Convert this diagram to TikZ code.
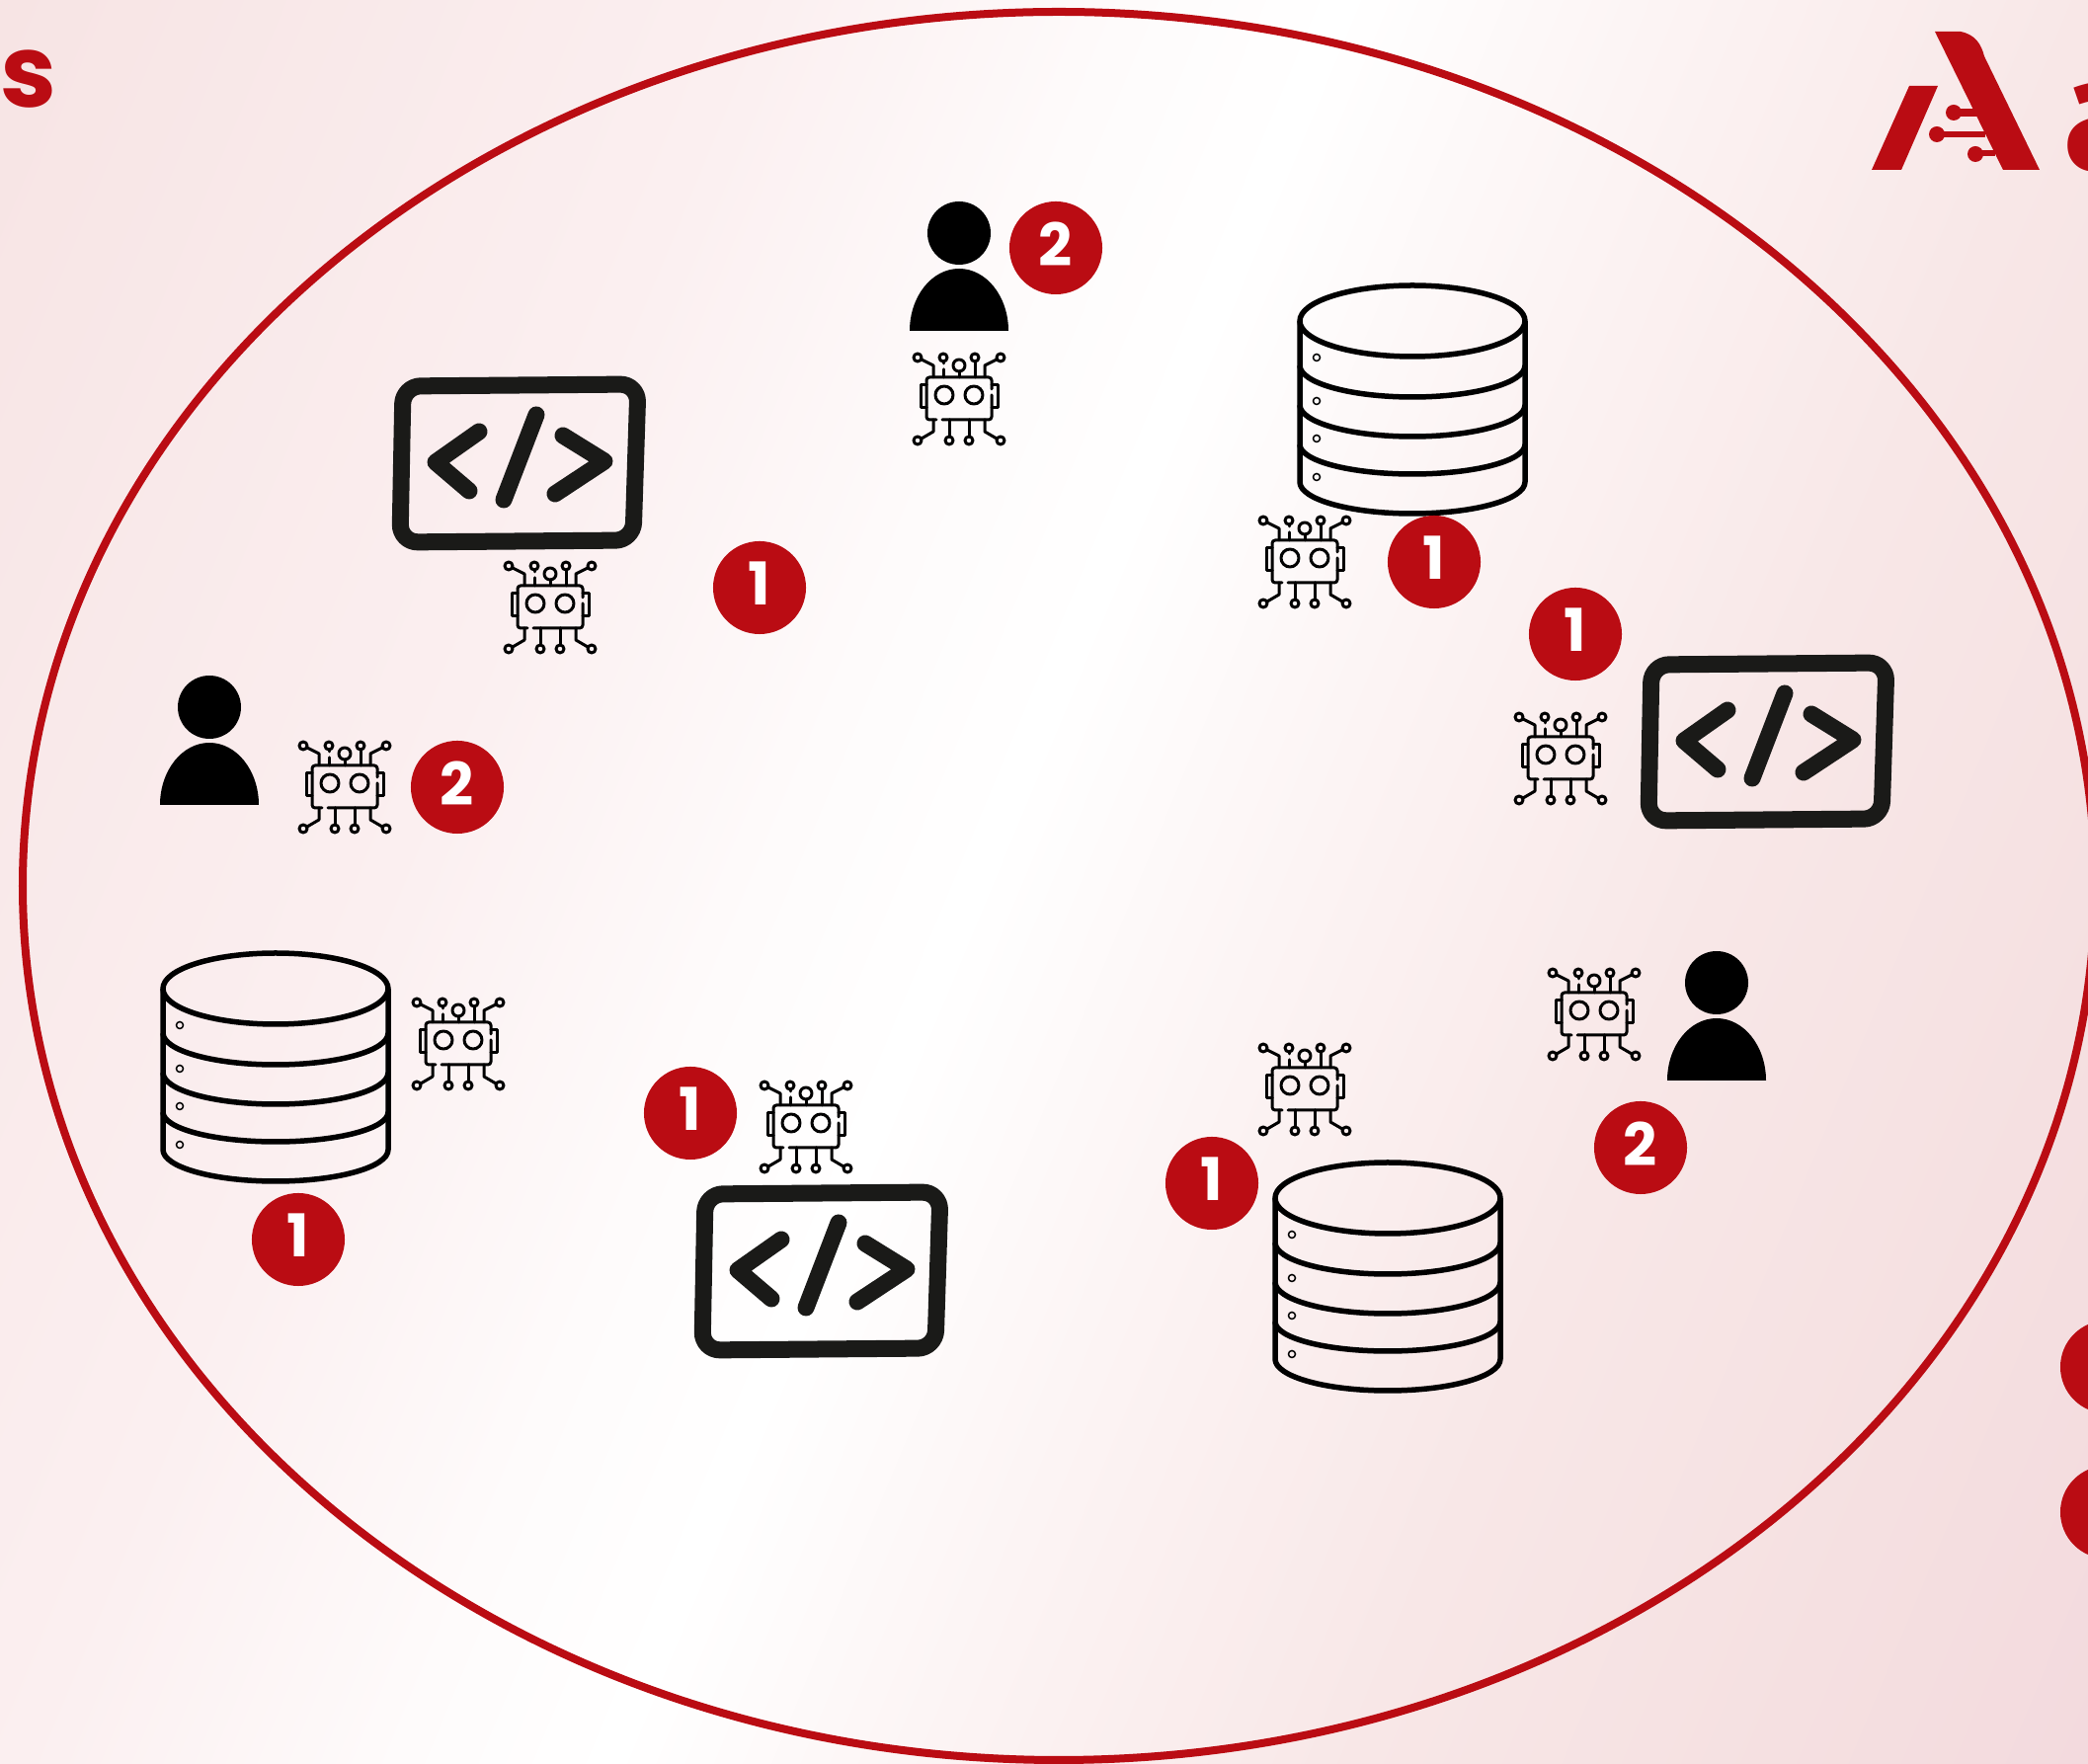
\documentclass[tikz,border=0pt]{standalone}
\usepackage{fontspec}
\newfontfamily\logofont{Poppins}
\newfontfamily\wordfont{Fira Sans}
\definecolor{pagepink}{HTML}{F7E4E4}
\definecolor{pagerose}{HTML}{F3DADE}
\definecolor{fadea}{HTML}{FBEFF0}
\definecolor{fadeb}{HTML}{FEFBFB}
\definecolor{fadec}{HTML}{FCF4F4}
\definecolor{faded}{HTML}{F8E7E7}
\definecolor{fadee}{HTML}{F5E0E1}
\definecolor{brandred}{HTML}{BA0C13}
\definecolor{codeink}{HTML}{1A1A18}
\pgfdeclarehorizontalshading{paperfade}{100bp}{
    color(0bp)=(pagepink);
    color(29.4bp)=(pagepink);
    color(40.4bp)=(fadea);
    color(45.9bp)=(fadeb);
    color(49.05bp)=(white);
    color(53.7bp)=(fadec);
    color(59.9bp)=(faded);
    color(66bp)=(fadee);
    color(70.6bp)=(pagerose);
    color(100bp)=(pagerose)}
\tikzset{x=0.01cm, y=-0.01cm, % Coordinates are pixels of the picture
        ring/.style={ % The big round border
            draw=brandred,
            line width=0.08cm},
        badge/.style={ % Sets the properties for each number
            circle,
            fill=brandred,
            text=white,
            inner sep=0pt,
            text depth=0.08cm, % Digits stand a little above the middle
            minimum size=0.94cm,
            font=\logofont\fontsize{17}{17}\selectfont\bfseries},
        brandtext/.style={
            text=brandred,
            inner sep=0pt,
            font=\logofont\bfseries},
        circuit/.style={ % Thin lines of the robot chip
            draw=black,
            line width=0.03cm,
            line cap=round,
            line join=round},
        barrel/.style={ % Lines of the database
            draw=black,
            line width=0.055cm,
            line join=round},
        codeline/.style={ % Heavy lines of the code window
            draw=codeink,
            line width=0.17cm,
            line cap=round,
            line join=round},
        personicon/.pic={
            \fill[black] (0,0) circle (32);
            \fill[black] (-50,99) arc (180:360:50 and 63) -- cycle;
        },
        roboticon/.pic={
            \draw[circuit, rounded corners=0.03cm] (-17,21) -- (33,21) -- (33,-4);
            \draw[circuit, rounded corners=0.03cm] (33,-10) -- (33,-22) -- (-33,-22) -- (-33,21) -- (-23,21);
            \draw[circuit] (-33,-14) -- (-39,-14) -- (-39,9) -- (-33,9);
            \draw[circuit] (33,-14) -- (39,-14) -- (39,9) -- (33,9);
            \draw[circuit] (-15,-4) circle (9);
            \draw[circuit] (15,-4) circle (9);
            \draw[circuit] (-42,-42) circle (4);
            \draw[circuit] (-16,-42) circle (4);
            \draw[circuit] (0,-34) circle (6);
            \draw[circuit] (16,-42) circle (4);
            \draw[circuit] (42,-42) circle (4);
            \draw[circuit] (-38,-40) -- (-26,-34) -- (-26,-22);
            \draw[circuit] (-16,-38) -- (-16,-36);
            \draw[circuit] (-16,-30) -- (-16,-22);
            \draw[circuit] (0,-28) -- (0,-22);
            \draw[circuit] (16,-38) -- (16,-22);
            \draw[circuit] (38,-40) -- (26,-34) -- (26,-22);
            \draw[circuit] (-42,42) circle (4);
            \draw[circuit] (-10,42) circle (4);
            \draw[circuit] (10,42) circle (4);
            \draw[circuit] (42,42) circle (4);
            \draw[circuit] (-38,40) -- (-26,33) -- (-26,21);
            \draw[circuit] (-10,38) -- (-10,21);
            \draw[circuit] (10,38) -- (10,21);
            \draw[circuit] (38,40) -- (26,33) -- (26,21);
        },
        dbicon/.pic={
            \draw[barrel] (0,-79) ellipse (114 and 36);
            \draw[barrel] (-114,-79) -- (-114,84) arc (180:0:114 and 32) -- (114,-79);
            \draw[barrel] (-114,-34) arc (180:0:114 and 32);
            \draw[barrel] (-114,6) arc (180:0:114 and 32);
            \draw[barrel] (-114,46) arc (180:0:114 and 30);
            \draw[line width=0.015cm] (-97,-42) circle (3.5);
            \draw[line width=0.015cm] (-97,2) circle (3.5);
            \draw[line width=0.015cm] (-97,40) circle (3.5);
            \draw[line width=0.015cm] (-97,79) circle (3.5);
        },
        codeicon/.pic={
            \draw[codeline, rounded corners=0.18cm] (-117,-78) -- (121,-80) -- (116,78) -- (-120,80) -- cycle;
            \draw[codeline] (-40,-32) -- (-84,-1) -- (-50,28);
            \draw[codeline] (18,-49) -- (-15,37);
            \draw[codeline] (45,-28) -- (87,-2) -- (37,31);
        }
        }

\begin{document}
\begin{tikzpicture}
    \path[use as bounding box, clip] (0,0) rectangle (2114,1786);
    \shade[shading=paperfade, shading angle=-22.6] (-543,-707) rectangle (2657,2493);

    \node[brandtext, font=\logofont\bfseries\fontsize{29}{29}\selectfont, anchor=base west] (plural) at (0,109) {s};
    \fill[brandred] (1895,172) -- (1933,87) -- (1962,87) -- (1925,172) -- cycle; % Logo letter
    \fill[brandred] (1959,32) -- (1985,32) .. controls (2000,35) and (2006,45) .. (2009,57) -- (2065,172) -- (2028,172) -- cycle;
    \fill[brandred] (1978,114) circle (8);
    \fill[brandred] (1961,136) circle (8);
    \fill[brandred] (2000,156) circle (8);
    \fill[brandred] (1978,110) rectangle (2005,118);
    \fill[brandred] (1961,133) rectangle (2010,139);
    \fill[brandred] (2000,152) rectangle (2020,158);
    \node[brandtext, font=\wordfont\bfseries\fontsize{46}{46}\selectfont, anchor=base west] (logoword) at (2089,172) {a};

    \draw[ring] (1072,897) ellipse (1049 and 885);

    \pic (persona) at (971,236) {personicon};
    \pic (personb) at (212,716) {personicon};
    \pic (personc) at (1738,995) {personicon};

    \pic (dba) at (1430,404) {dbicon};
    \pic (dbb) at (279,1080) {dbicon};
    \pic (dbc) at (1405,1292) {dbicon};

    \pic (codea) at (525,469) {codeicon};
    \pic (codeb) at (1789,751) {codeicon};
    \pic (codec) at (831,1287) {codeicon};

    \pic (robota) at (971,404) {roboticon};
    \pic (robotb) at (557,615) {roboticon};
    \pic (robotc) at (1321,569) {roboticon};
    \pic (robotd) at (1580,768) {roboticon};
    \pic (robote) at (349,797) {roboticon};
    \pic (robotf) at (464,1057) {roboticon};
    \pic (robotg) at (816,1141) {roboticon};
    \pic (roboth) at (1321,1103) {roboticon};
    \pic (roboti) at (1614,1027) {roboticon};

    \node[badge] (ba) at (1069,251) {2};
    \node[badge] (bb) at (769,595) {1};
    \node[badge] (bc) at (1452,569) {1};
    \node[badge] (bd) at (1595,642) {1};
    \node[badge] (be) at (463,797) {2};
    \node[badge] (bf) at (699,1127) {1};
    \node[badge] (bg) at (302,1255) {1};
    \node[badge] (bh) at (1227,1198) {1};
    \node[badge] (bi) at (1661,1162) {2};
    \node[badge] (bj) at (2133,1384) {};
    \node[badge] (bk) at (2133,1531) {};
\end{tikzpicture}
\end{document}
